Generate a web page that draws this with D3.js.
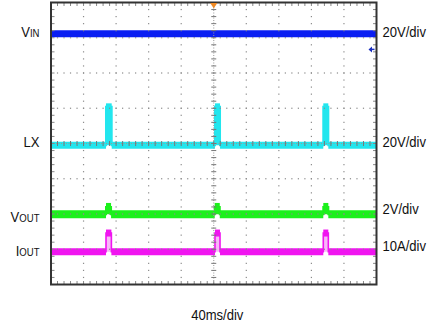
<!DOCTYPE html>
<html><head><meta charset="utf-8">
<script src="https://cdn.jsdelivr.net/npm/d3@7"></script>
<style>
html,body{margin:0;padding:0;background:#fff;}
svg{display:block;font-family:"Liberation Sans",Arial,sans-serif;}
</style></head>
<body>
<svg id="c" width="430" height="326"></svg>
<script>
// ---- data (time in ms, trace level in screen divisions) ----
const timeDomainMs = [-200, 200];          // 40 ms/div x 10 div
const divDomain = [-4, 4];                 // 8 vertical divisions
const vinT  = [-200, 200];
const vinV  = [3.11, 3.11];
const lxT   = [-200, -132.4, -125.4, 1.5, 7.7, 134.6, 140.8, 200];
const lxV   = [-0.05, 1.04, -0.05, 1.04, -0.05, 1.04, -0.05, -0.05];
const voutT = [-200, -132.4, -126.2, 1.2, 7.4, 134.6, 140.8, 200];
const voutV = [-2.01, -1.80, -2.01, -1.80, -2.01, -1.80, -2.01, -2.01];
const ioutT = [-200, -132.4, -125.8, 1.5, 7.7, 134.6, 140.8, 200];
const ioutV = [-3.07, -2.54, -3.07, -2.54, -3.07, -2.54, -3.07, -3.07];
const leftLabels  = [["V","IN"], ["LX",""], ["V","OUT"], ["I","OUT"]];
const leftLabelDiv = [3.02, -0.09, -2.23, -3.18];
const rightLabels = ["20V/div", "20V/div", "2V/div", "10A/div"];
const rightLabelDiv = [3.02, -0.09, -2.0, -3.04];
const timeLabel = "40ms/div";
const vinGroundDiv = 2.67;

const svg = d3.select("#c");
const x = d3.scaleLinear().domain(timeDomainMs).range([51, 376.5]);
const y = d3.scaleLinear().domain(divDomain).range([284.5, 2.5]);

const traces = [
  {t: vinT,  v: vinV,  color: "#0a1ef2", band: 7, edge: 2, fill: null},
  {t: lxT,   v: lxV,   color: "#22e6ee", band: 7, edge: 2, fill: "#22e6ee"},
  {t: voutT, v: voutV, color: "#1cf01c", band: 8, edge: 2, fill: "#1cf01c"},
  {t: ioutT, v: ioutV, color: "#f014f0", band: 7, edge: 1.6, fill: "#f7b8f7"}
];

const gT = svg.append("g");
traces.forEach(tr => {
  const pts = tr.t.map((t, i) => [t, tr.v[i]]);
  const base = tr.v[0];
  if (tr.fill) {
    gT.append("path").datum(pts)
      .attr("d", d3.area().curve(d3.curveStepAfter).x(d => x(d[0])).y0(y(base)).y1(d => y(d[1])))
      .attr("fill", tr.fill);
  }
  gT.append("path").datum(pts)
    .attr("d", d3.line().curve(d3.curveStepAfter).x(d => x(d[0])).y(d => y(d[1])))
    .attr("fill", "none").attr("stroke", tr.color).attr("stroke-width", tr.edge);
  for (let i = 0; i < pts.length - 1; i++) {
    gT.append("line")
      .attr("x1", x(pts[i][0])).attr("x2", x(pts[i + 1][0]))
      .attr("y1", y(pts[i][1])).attr("y2", y(pts[i][1]))
      .attr("stroke", tr.color).attr("stroke-width", tr.band);
  }
});

// ---- graticule ----
const gG = svg.append("g");
const majorT = d3.range(-200, 201, 40);
const majorD = d3.range(-4, 4.01, 1);
const minorT = d3.range(-200, 200.01, 8);
const minorD = d3.range(-4, 4.001, 0.2);
const dotC = "#8a8a8a";
majorT.filter(t => t > -200 && t < 200 && t !== 0).forEach(t => {
  minorD.forEach(dv => gG.append("rect").attr("x", x(t) - 0.6).attr("y", y(dv) - 0.6)
    .attr("width", 1.2).attr("height", 1.2).attr("fill", dotC));
});
majorD.filter(dv => dv > -4 && dv < 4 && dv !== 0).forEach(dv => {
  minorT.forEach(t => gG.append("rect").attr("x", x(t) - 0.6).attr("y", y(dv) - 0.6)
    .attr("width", 1.2).attr("height", 1.2).attr("fill", dotC));
});
// centre axes
gG.append("line").attr("x1", x(0)).attr("x2", x(0)).attr("y1", y(4)).attr("y2", y(-4))
  .attr("stroke", "#999").attr("stroke-width", 1).attr("stroke-dasharray", "1,1.5");
gG.append("line").attr("x1", x(-200)).attr("x2", x(200)).attr("y1", y(0)).attr("y2", y(0))
  .attr("stroke", "#999").attr("stroke-width", 1).attr("stroke-dasharray", "1,1.5");
minorD.forEach(dv => gG.append("line").attr("x1", x(0) - 2.5).attr("x2", x(0) + 2.5)
  .attr("y1", y(dv)).attr("y2", y(dv)).attr("stroke", "#777").attr("stroke-width", 1));
minorT.forEach(t => gG.append("line").attr("x1", x(t)).attr("x2", x(t))
  .attr("y1", y(0) - 2.5).attr("y2", y(0) + 2.5).attr("stroke", "#777").attr("stroke-width", 1));
// edge ticks
minorD.forEach(dv => {
  gG.append("line").attr("x1", x(-200)).attr("x2", x(-200) + 3.5).attr("y1", y(dv)).attr("y2", y(dv))
    .attr("stroke", "#888").attr("stroke-width", 1);
  gG.append("line").attr("x1", x(200) - 3.5).attr("x2", x(200)).attr("y1", y(dv)).attr("y2", y(dv))
    .attr("stroke", "#888").attr("stroke-width", 1);
});
minorT.forEach(t => {
  gG.append("line").attr("x1", x(t)).attr("x2", x(t)).attr("y1", y(4)).attr("y2", y(4) + 3.5)
    .attr("stroke", "#888").attr("stroke-width", 1);
  gG.append("line").attr("x1", x(t)).attr("x2", x(t)).attr("y1", y(-4) - 3.5).attr("y2", y(-4))
    .attr("stroke", "#888").attr("stroke-width", 1);
});
// frame
gG.append("rect").attr("x", x(-200)).attr("y", y(4))
  .attr("width", x(200) - x(-200)).attr("height", y(-4) - y(4))
  .attr("fill", "none").attr("stroke", "#333").attr("stroke-width", 2);

// trigger marker (orange) and ground marker (blue)
gG.append("path").attr("d", `M${x(0) - 3.5},${y(4) + 0.5} L${x(0) + 3.5},${y(4) + 0.5} L${x(0)},${y(4) + 6} Z`)
  .attr("fill", "#f08a24");
gG.append("path").attr("d", `M${x(200) - 8},${y(vinGroundDiv)} L${x(200) - 4.5},${y(vinGroundDiv) - 3} L${x(200) - 4.5},${y(vinGroundDiv) + 3} Z`)
  .attr("fill", "#1a2fc0");
gG.append("line").attr("x1", x(200) - 5).attr("x2", x(200) - 2).attr("y1", y(vinGroundDiv)).attr("y2", y(vinGroundDiv))
  .attr("stroke", "#1a2fc0").attr("stroke-width", 1.5);

// ---- labels ----
const gL = svg.append("g").attr("fill", "#111");
leftLabels.forEach((lab, i) => {
  const t = gL.append("text")
    .attr("transform", `translate(39.5,${y(leftLabelDiv[i])}) scale(0.87,1)`)
    .attr("text-anchor", "end").attr("font-size", 15);
  t.append("tspan").text(lab[0]);
  if (lab[1]) t.append("tspan").attr("font-size", 11).text(lab[1]);
});
rightLabels.forEach((lab, i) => {
  gL.append("text")
    .attr("transform", `translate(382.5,${y(rightLabelDiv[i])}) scale(0.87,1)`)
    .attr("font-size", 15).text(lab);
});
gL.append("text").attr("transform", `translate(${x(0) + 3.5},320) scale(0.87,1)`)
  .attr("text-anchor", "middle").attr("font-size", 15).text(timeLabel);
</script>
</body></html>
